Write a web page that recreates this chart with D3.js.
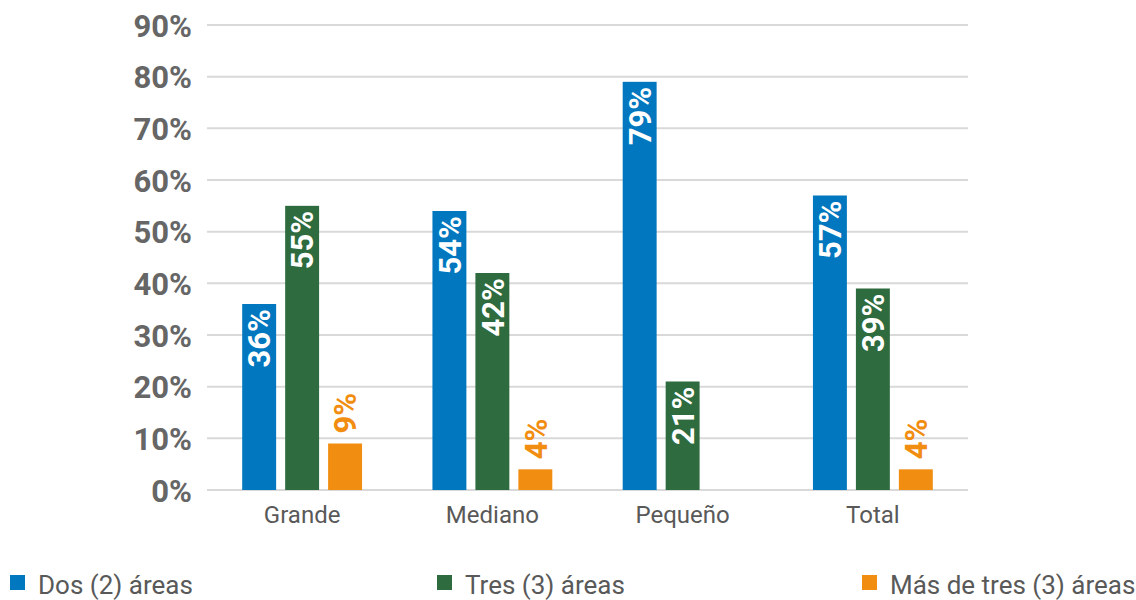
<!DOCTYPE html>
<html>
<head>
<meta charset="utf-8">
<script src="https://cdn.jsdelivr.net/npm/d3@7"></script>
<style>
  html, body { margin: 0; padding: 0; background: #ffffff; }
  svg { display: block; }
  text { font-family: Roboto, "Noto Sans", sans-serif; }
</style>
</head>
<body>
<svg id="chart" width="1136" height="600"></svg>
<script>
// Company size categories
const categories = ["Grande", "Mediano", "Pequeño", "Total"];
// Series: number of areas involved
const seriesNames = ["Dos (2) áreas", "Tres (3) áreas", "Más de tres (3) áreas"];
const seriesColors = ["#0077be", "#2e6b3e", "#f18d10"];
// Percent values per series, in category order (null = no bar)
const dosAreas = [36, 54, 79, 57];
const tresAreas = [55, 42, 21, 39];
const masDeTres = [9, 4, null, 4];
// Y axis tick values
const yTicks = [0, 10, 20, 30, 40, 50, 60, 70, 80, 90];

const seriesValues = [dosAreas, tresAreas, masDeTres];

const svg = d3.select("#chart");
const plot = { left: 207, right: 968, top: 25, bottom: 490 };

const y = d3.scaleLinear().domain([0, 90]).range([plot.bottom, plot.top]);
const x0 = d3.scaleBand().domain(categories).range([plot.left, plot.right])
  .paddingInner(0.37).paddingOuter(0.185);
const x1 = d3.scaleBand().domain(d3.range(seriesNames.length)).range([0, x0.bandwidth()])
  .paddingInner(0.21).paddingOuter(0);

// Gridlines
svg.append("g")
  .selectAll("line")
  .data(yTicks)
  .join("line")
  .attr("x1", plot.left).attr("x2", plot.right)
  .attr("y1", d => y(d)).attr("y2", d => y(d))
  .attr("stroke", "#d9d9d9").attr("stroke-width", 2);

// Y axis labels
const yAxis = d3.axisLeft(y).tickValues(yTicks).tickFormat(d => d + "%").tickSize(0).tickPadding(0);
const gy = svg.append("g").attr("transform", `translate(192,0)`).call(yAxis);
gy.select(".domain").remove();
gy.selectAll("text")
  .attr("font-family", "Roboto, sans-serif")
  .attr("font-size", 31).attr("font-weight", 700)
  .attr("fill", "#666666").attr("dy", "0.36em");

// X axis category labels
const xAxis = d3.axisBottom(x0).tickSize(0).tickPadding(0);
const gx = svg.append("g").attr("transform", `translate(0,${plot.bottom})`).call(xAxis);
gx.select(".domain").remove();
gx.selectAll("text")
  .attr("font-family", "Roboto, sans-serif")
  .attr("font-size", 24).attr("font-weight", 400)
  .attr("fill", "#595959").attr("dy", null).attr("y", 33);

// Bars
const rows = [];
categories.forEach((c, ci) => {
  seriesValues.forEach((vals, si) => {
    if (vals[ci] != null) rows.push({ cat: c, s: si, v: vals[ci] });
  });
});

const groups = svg.append("g");
groups.selectAll("rect")
  .data(rows)
  .join("rect")
  .attr("x", d => x0(d.cat) + x1(d.s))
  .attr("y", d => y(d.v))
  .attr("width", x1.bandwidth())
  .attr("height", d => y(0) - y(d.v))
  .attr("fill", d => seriesColors[d.s]);

// Value labels (rotated); large bars hold the label inside, small bars show it above
groups.selectAll("text")
  .data(rows)
  .join("text")
  .attr("transform", d => {
    const cx = x0(d.cat) + x1(d.s) + x1.bandwidth() / 2;
    const inside = d.v >= 15;
    const ty = inside ? y(d.v) + 5 : y(d.v) - 10;
    return `translate(${cx},${ty}) rotate(-90)`;
  })
  .attr("text-anchor", d => d.v >= 15 ? "end" : "start")
  .attr("dy", "0.36em")
  .attr("font-size", 31).attr("font-weight", 700)
  .attr("fill", d => d.v >= 15 ? "#ffffff" : seriesColors[d.s])
  .text(d => d.v + "%");

// Legend
const legendX = [10, 437, 862];
const legend = svg.append("g");
const li = legend.selectAll("g")
  .data(seriesNames)
  .join("g")
  .attr("transform", (d, i) => `translate(${legendX[i]},575)`);
li.append("rect").attr("width", 15).attr("height", 15).attr("fill", (d, i) => seriesColors[i]);
li.append("text")
  .attr("x", 28).attr("y", 19)
  .attr("font-size", 26).attr("fill", "#595959")
  .text(d => d);
</script>
</body>
</html>
